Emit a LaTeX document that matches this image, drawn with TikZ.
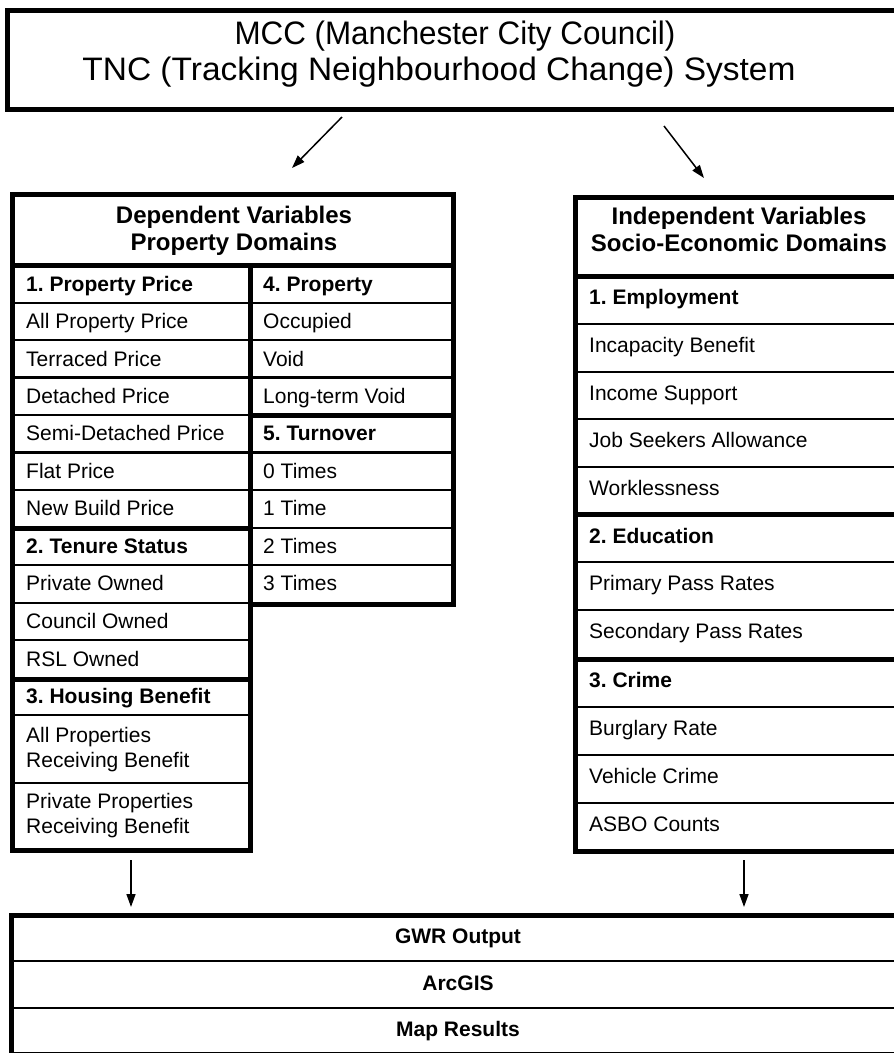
\documentclass[tikz,border=0pt]{standalone}
\usepackage{fontspec}
\setmainfont{Liberation Sans}
\usetikzlibrary{arrows.meta}
\frenchspacing
\begin{document}
\begin{tikzpicture}[x=1pt,y=-1pt,
  thk/.style={line width=5pt,line cap=rect},
  thn/.style={line width=2.5pt,line cap=rect},
  cell/.style={anchor=base west,inner sep=0pt,font=\fontsize{21}{25}\selectfont},
  bcell/.style={cell,font=\fontsize{21}{25}\selectfont\bfseries},
  head/.style={anchor=base,inner sep=0pt,font=\fontsize{24}{27}\selectfont\bfseries},
  foot/.style={anchor=base,inner sep=0pt,font=\fontsize{21}{25}\selectfont\bfseries},
  ttl/.style={anchor=base,inner sep=0pt,font=\fontsize{32.5}{36}\selectfont},
  arr/.style={line width=1.5pt,-{Triangle[length=13pt,width=9pt]}}]
\clip (0,0) rectangle (894,1053);
\fill[white] (0,0) rectangle (894,1053);

% ---------- title box
\draw[thk] (7,10) rectangle (915,109);
\node[ttl] (title1) at (455,44) {\scalebox{0.965}[1]{MCC (Manchester City Council)}};
\node[ttl] (title2) at (439,80) {\scalebox{1.03}[1]{TNC (Tracking Neighbourhood Change) System}};

% ---------- left table
\draw[thk] (12,194.5) -- (453,194.5);
\draw[thk] (12,194.5) -- (12,850);
\draw[thk] (453,194.5) -- (453,604);
\draw[thk] (250,265.5) -- (250,850);
\draw[thk] (12,265.5) -- (453,265.5);
\draw[thk] (12,528) -- (250,528);
\draw[thk] (12,679) -- (250,679);
\draw[thk] (12,850) -- (250,850);
\draw[thk] (250,415) -- (453,415);
\draw[thk] (250,604) -- (453,604);
\foreach \y in {303,340,377.5,415,452.5,490,565,603,640,715,783}
  \draw[thn] (12,\y) -- (250,\y);
\foreach \y in {303,340,377.5,452.5,490,528,565}
  \draw[thn] (250,\y) -- (453,\y);

\node[head] (dvh) at (234,223) {\begin{tabular}[t]{@{}c@{}}Dependent Variables\\Property Domains\end{tabular}};

\node[bcell] (pp) at (26,291) {1. Property Price};
\node[cell] (pp1) at (26,328.5) {All Property Price};
\node[cell] (pp2) at (26,366) {Terraced Price};
\node[cell] (pp3) at (26,403) {Detached Price};
\node[cell] (pp4) at (26,440.5) {Semi-Detached Price};
\node[cell] (pp5) at (26,478) {Flat Price};
\node[cell] (pp6) at (26,515.5) {New Build Price};
\node[bcell] (ts) at (26,553.5) {2. Tenure Status};
\node[cell] (ts1) at (26,590.5) {Private Owned};
\node[cell] (ts2) at (26,628.5) {Council Owned};
\node[cell] (ts3) at (26,666) {RSL Owned};
\node[bcell] (hb) at (26,703) {3. Housing Benefit};
\node[cell] (hb1) at (26,742) {\begin{tabular}[t]{@{}l@{}}All Properties\\Receiving Benefit\end{tabular}};
\node[cell] (hb2) at (26,808.5) {\begin{tabular}[t]{@{}l@{}}Private Properties\\Receiving Benefit\end{tabular}};

\node[bcell] (pr) at (263,291) {4. Property};
\node[cell] (pr1) at (263,328.5) {Occupied};
\node[cell] (pr2) at (263,366) {Void};
\node[cell] (pr3) at (263,403) {Long-term Void};
\node[bcell] (to) at (263,440.5) {5. Turnover};
\node[cell] (to1) at (263,478) {0 Times};
\node[cell] (to2) at (263,515.5) {1 Time};
\node[cell] (to3) at (263,553.5) {2 Times};
\node[cell] (to4) at (263,590.5) {3 Times};

% ---------- right table
\draw[thk] (575.5,197.5) -- (915,197.5);
\draw[thk] (575.5,197.5) -- (575.5,851);
\draw[thk] (575.5,276) -- (915,276);
\draw[thk] (575.5,514.5) -- (915,514.5);
\draw[thk] (575.5,659) -- (915,659);
\draw[thk] (575.5,851) -- (915,851);
\foreach \y in {324,372,419,467,562,610,707,755,803}
  \draw[thn] (575.5,\y) -- (915,\y);

\node[head] (ivh) at (739,224) {\begin{tabular}[t]{@{}c@{}}Independent Variables\\Socio-Economic Domains\end{tabular}};

\node[bcell] (em) at (589,304.5) {1. Employment};
\node[cell] (em1) at (589,352.5) {Incapacity Benefit};
\node[cell] (em2) at (589,400) {Income Support};
\node[cell] (em3) at (589,447.5) {Job Seekers Allowance};
\node[cell] (em4) at (589,495.5) {Worklessness};
\node[bcell] (ed) at (589,543) {2. Education};
\node[cell] (ed1) at (589,590.5) {Primary Pass Rates};
\node[cell] (ed2) at (589,638.5) {Secondary Pass Rates};
\node[bcell] (cr) at (589,687.5) {3. Crime};
\node[cell] (cr1) at (589,735.5) {Burglary Rate};
\node[cell] (cr2) at (589,783.5) {Vehicle Crime};
\node[cell] (cr3) at (589,831.5) {ASBO Counts};

% ---------- bottom box
\draw[thk] (11.5,915) rectangle (915,1054);
\draw[thn] (11.5,961) -- (915,961);
\draw[thn] (11.5,1008) -- (915,1008);
\node[foot] (gwr) at (458,943) {GWR Output};
\node[foot] (arc) at (458,990) {ArcGIS};
\node[foot] (map) at (458,1036) {Map Results};

% ---------- arrows
\coordinate (t1) at (342,117);
\coordinate (d1) at (292,168);
\coordinate (t2) at (664,126);
\coordinate (d2) at (704,178);
\coordinate (b1) at (131,860);
\coordinate (e1) at (131,907);
\coordinate (b2) at (744,860);
\coordinate (e2) at (744,907);
\draw[arr] (t1) -- (d1);
\draw[arr] (t2) -- (d2);
\draw[arr] (b1) -- (e1);
\draw[arr] (b2) -- (e2);
\end{tikzpicture}
\end{document}
